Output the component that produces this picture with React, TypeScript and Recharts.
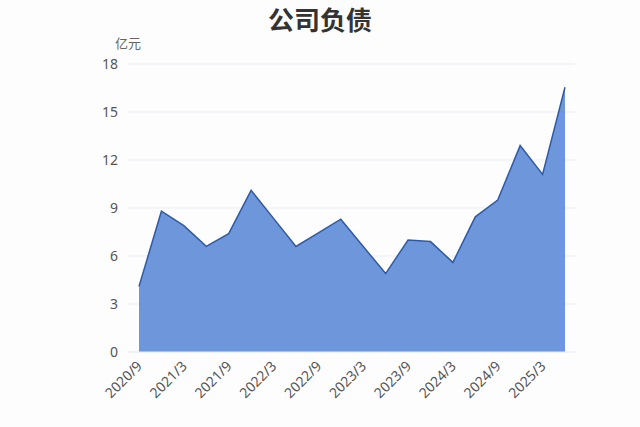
import React from 'react';
import { AreaChart, Area, XAxis, YAxis, CartesianGrid } from 'recharts';

const quarters = [
  '2020/9', '2020/12', '2021/3', '2021/6', '2021/9', '2021/12', '2022/3', '2022/6',
  '2022/9', '2022/12', '2023/3', '2023/6', '2023/9', '2023/12', '2024/3', '2024/6',
  '2024/9', '2024/12', '2025/3', '2025/6',
];

const debt = [
  4.1, 8.8, 7.9, 6.6, 7.4, 10.1, 8.35, 6.6,
  7.45, 8.3, 6.6, 4.9, 7.0, 6.9, 5.6, 8.45,
  9.5, 12.9, 11.1, 16.55,
];

const yTicks = [0, 3, 6, 9, 12, 15, 18];

const data = quarters.map((q, i) => ({ name: q, value: debt[i] }));

const FONT = '"Noto Sans", "Noto Sans CJK SC", sans-serif';

const XTick = (props: any) => {
  const { x, y, payload } = props;
  return (
    <text
      x={x + 4}
      y={y + 7}
      textAnchor="end"
      fill="#555"
      fontSize={14}
      fontFamily={FONT}
      transform={`rotate(-45, ${x + 4}, ${y + 7})`}
    >
      {payload.value}
    </text>
  );
};

const App: React.FC = () => {
  return (
    <div style={{ position: 'absolute', left: 0, top: 0, width: 640, height: 427, background: '#fdfdfe', fontFamily: FONT }}>
      <div style={{ position: 'absolute', left: 0, width: 640, top: 2, textAlign: 'center', fontSize: 26, fontWeight: 'bold', color: '#333', lineHeight: '36px' }}>
        公司负债
      </div>
      <div style={{ position: 'absolute', left: 115, top: 34, fontSize: 13, color: '#666', lineHeight: '18px' }}>
        亿元
      </div>
      <AreaChart width={640} height={427} data={data} margin={{ top: 64, right: 65, left: 0, bottom: 0 }}>
        <CartesianGrid horizontal vertical={false} stroke="#e9edf3" />
        <XAxis
          dataKey="name"
          interval={1}
          tickLine={false}
          axisLine={{ stroke: '#e9edf3' }}
          tick={<XTick />}
          padding={{ left: 11, right: 10 }}
          height={75}
        />
        <YAxis
          domain={[0, 18]}
          ticks={yTicks}
          width={128}
          tickLine={false}
          axisLine={false}
          tickMargin={4}
          tick={{ fill: '#555', fontSize: 14, fontFamily: FONT }}
        />
        <Area
          type="linear"
          dataKey="value"
          stroke="#2e5aa8"
          strokeWidth={1.5}
          fill="#6d96db"
          fillOpacity={1}
          dot={false}
          activeDot={false}
          isAnimationActive={false}
        />
      </AreaChart>
    </div>
  );
};

export default App;
